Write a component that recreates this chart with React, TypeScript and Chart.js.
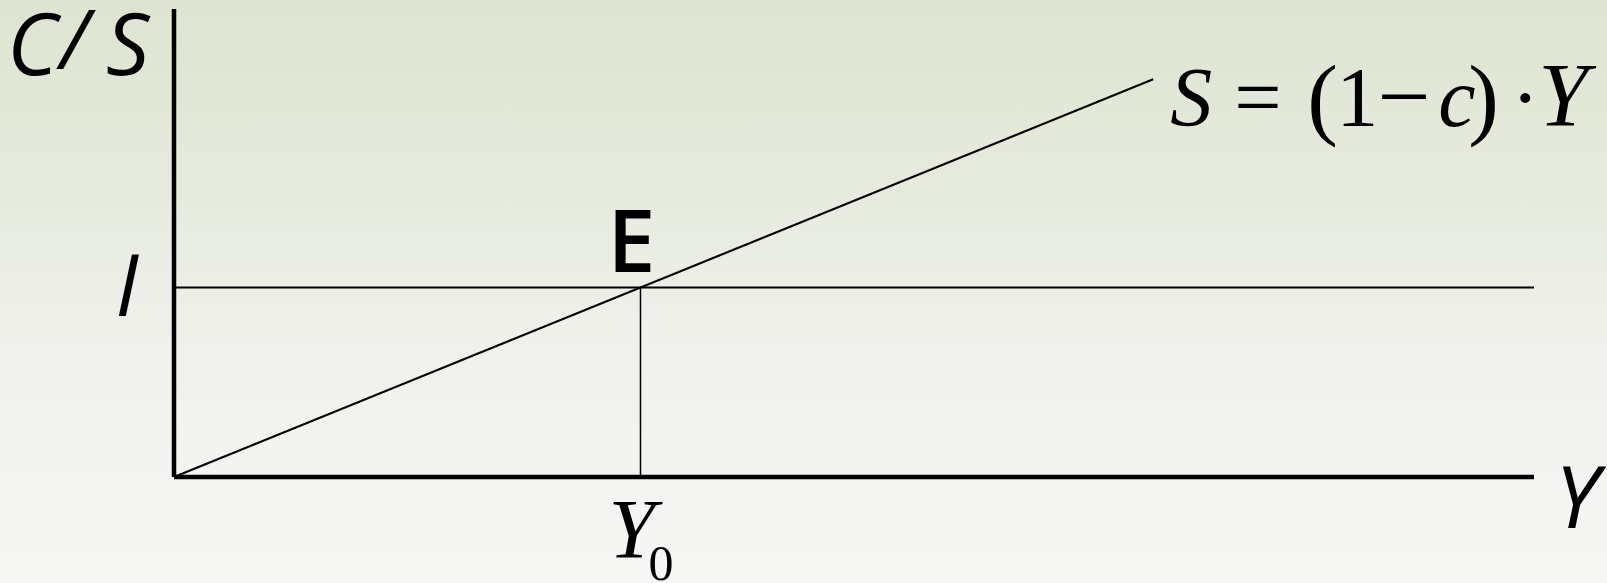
import React, { useEffect, useRef } from "react";
import { Chart, registerables } from "chart.js";

Chart.register(...registerables);

// ---- data ----
const axisRangeX = [0, 100];
const axisRangeY = [0, 100];
const savingsLineX = [0, 72];
const savingsLineY = [0, 85];
const investmentLevel = [40.5];
const equilibriumIncome = [34.3];

const W = 1607;
const H = 583;

const SERIF_FAM = "'Liberation Serif', 'Times New Roman', Times, serif";
const SANS_FAM = "'Open Sans', 'Noto Sans', sans-serif";

const labelsPlugin = {
  id: "econLabels",
  afterDatasetsDraw(chart: any) {
    const ctx = chart.ctx as CanvasRenderingContext2D;
    const xs = chart.scales.x;
    const ys = chart.scales.y;
    const x0 = xs.getPixelForValue(0);
    const yTop = ys.getPixelForValue(axisRangeY[1]);
    const yBase = ys.getPixelForValue(0);
    const xEnd = xs.getPixelForValue(axisRangeX[1]);
    const yI = ys.getPixelForValue(investmentLevel[0]);
    const xE = xs.getPixelForValue(equilibriumIncome[0]);
    const sx = xs.getPixelForValue(savingsLineX[1]);
    const sy = ys.getPixelForValue(savingsLineY[1]);

    ctx.save();
    ctx.fillStyle = "#000";
    ctx.textBaseline = "alphabetic";
    const sansI = `italic 86px ${SANS_FAM}`;
    const sans = `600 86px ${SANS_FAM}`;
    const serif = `84px ${SERIF_FAM}`;
    const serifI = `italic 84px ${SERIF_FAM}`;
    const paren = `92px ${SERIF_FAM}`;

    // C / S at top-left
    ctx.font = sansI;
    ctx.textAlign = "left";
    ctx.fillText("C", x0 - 167, yTop + 66);
    ctx.font = `italic 82px ${SANS_FAM}`;
    ctx.fillText("/", x0 - 114, yTop + 60);
    ctx.font = sansI;
    ctx.fillText("S", x0 - 68, yTop + 66);

    // I label
    ctx.textAlign = "center";
    ctx.fillText("I", x0 - 47, yI + 29);

    // Y on the x axis end
    ctx.textAlign = "left";
    ctx.fillText("Y", xEnd + 21, yBase + 51);

    // E
    ctx.font = sans;
    ctx.textAlign = "center";
    ctx.fillText("E", xE - 9, yI - 15);

    // Y0
    ctx.font = serifI;
    ctx.textAlign = "left";
    ctx.fillText("Y", xE - 32, yBase + 81);
    ctx.font = `50px ${SERIF_FAM}`;
    ctx.fillText("0", xE + 8, yBase + 103);

    // formula S = (1 − c) · Y
    const bx = sx + 17;
    const by = sy + 47;
    ctx.font = serifI;
    ctx.fillText("S", bx, by);
    ctx.font = serif;
    ctx.fillText("=", bx + 64, by);
    ctx.font = paren;
    ctx.fillText("(", bx + 137, by + 2);
    ctx.font = serif;
    ctx.fillText("1", bx + 166, by);
    ctx.font = `94px ${SERIF_FAM}`;
    ctx.fillText("\u2212", bx + 207, by + 2);
    ctx.font = serifI;
    ctx.fillText("c", bx + 268, by);
    ctx.font = paren;
    ctx.fillText(")", bx + 298, by + 2);
    ctx.font = serif;
    ctx.textAlign = "center";
    ctx.fillText("\u00B7", bx + 355, by);
    ctx.textAlign = "left";
    ctx.font = `italic 90px ${SERIF_FAM}`;
    ctx.fillText("Y", bx + 368, by);
    ctx.restore();
  },
};

export default function App() {
  const ref = useRef<HTMLCanvasElement | null>(null);

  useEffect(() => {
    if (!ref.current) return;
    const line = (pts: { x: number; y: number }[], width: number) => ({
      data: pts,
      showLine: true,
      borderColor: "#000",
      borderWidth: width,
      pointRadius: 0,
      pointHoverRadius: 0,
      fill: false,
      clip: false as any,
      borderCapStyle: "butt" as const,
    });
    const chart = new Chart(ref.current, {
      type: "scatter",
      data: {
        datasets: [
          line(
            [
              { x: savingsLineX[0], y: savingsLineY[0] },
              { x: savingsLineX[1], y: savingsLineY[1] },
            ],
            2
          ),
          line(
            [
              { x: axisRangeX[0], y: investmentLevel[0] },
              { x: axisRangeX[1], y: investmentLevel[0] },
            ],
            2
          ),
          line(
            [
              { x: equilibriumIncome[0], y: 0 },
              { x: equilibriumIncome[0], y: investmentLevel[0] },
            ],
            1.5
          ),
          line(
            [
              { x: axisRangeX[0], y: axisRangeY[0] },
              { x: axisRangeX[1], y: axisRangeY[0] },
            ],
            4.5
          ),
          line(
            [
              { x: axisRangeX[0], y: axisRangeY[0] },
              { x: axisRangeX[0], y: axisRangeY[1] },
            ],
            4.5
          ),
        ] as any,
      },
      options: {
        animation: false,
        responsive: false,
        devicePixelRatio: 1,
        layout: { padding: { left: 174, top: 9, right: 73, bottom: 106 } },
        plugins: { legend: { display: false }, tooltip: { enabled: false } },
        events: [],
        scales: {
          x: { type: "linear", min: axisRangeX[0], max: axisRangeX[1], display: false },
          y: { type: "linear", min: axisRangeY[0], max: axisRangeY[1], display: false },
        },
      },
      plugins: [labelsPlugin],
    });
    const fonts = [
      "italic 86px 'Open Sans'",
      "600 86px 'Open Sans'",
      "84px 'Liberation Serif'",
      "italic 84px 'Liberation Serif'",
    ];
    Promise.all(fonts.map((f) => (document as any).fonts.load(f)))
      .then(() => chart.update())
      .catch(() => {});
    return () => chart.destroy();
  }, []);

  return (
    <div
      style={{
        position: "fixed",
        left: 0,
        top: 0,
        width: W,
        height: H,
        background:
          "linear-gradient(180deg, #dde4d0 0%, #e7ebdf 35%, #f1f2ee 65%, #f6f6f5 100%)",
      }}
    >
      <canvas ref={ref} width={W} height={H} style={{ display: "block", width: W, height: H }} />
    </div>
  );
}
